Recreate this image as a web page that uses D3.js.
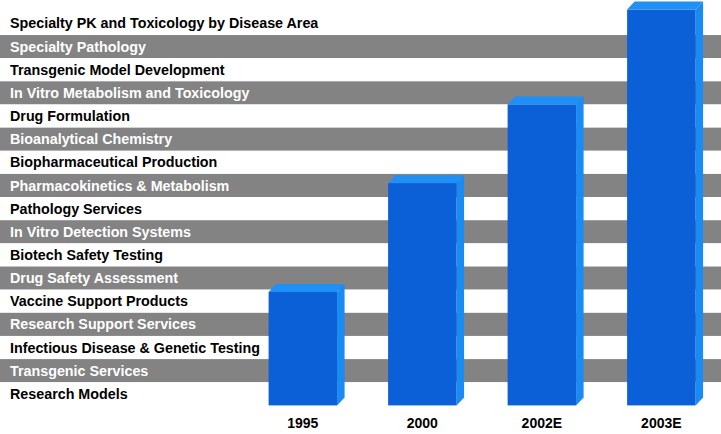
<!DOCTYPE html>
<html>
<head>
<meta charset="utf-8">
<script src="https://cdn.jsdelivr.net/npm/d3@7/dist/d3.min.js"></script>
<style>
  html, body { margin: 0; padding: 0; background: #ffffff; }
  svg { display: block; }
</style>
</head>
<body>
<svg id="chart" width="721" height="434"></svg>
<script>
// ---- data ----
const rowLabels = [
  "Specialty PK and Toxicology by Disease Area",
  "Specialty Pathology",
  "Transgenic Model Development",
  "In Vitro Metabolism and Toxicology",
  "Drug Formulation",
  "Bioanalytical Chemistry",
  "Biopharmaceutical Production",
  "Pharmacokinetics & Metabolism",
  "Pathology Services",
  "In Vitro Detection Systems",
  "Biotech Safety Testing",
  "Drug Safety Assessment",
  "Vaccine Support Products",
  "Research Support Services",
  "Infectious Disease & Genetic Testing",
  "Transgenic Services",
  "Research Models"
];
const years = ["1995", "2000", "2002E", "2003E"];
const values = [4.9, 9.6, 13.0, 17.1];

// ---- layout ----
const W = 721, H = 434;
const plotTop = 11.9, plotBottom = 405.4;
const depthX = 7.5, depthY = 8;

const svg = d3.select("#chart");

const yRow = d3.scaleBand().domain(rowLabels).range([plotTop, plotBottom]).padding(0);
const y = d3.scaleLinear().domain([0, rowLabels.length]).range([plotBottom, plotTop]);
const x = d3.scaleBand().domain(years).range([268.6, 695.6]).paddingInner(0.427).paddingOuter(0);

// stripes
svg.append("g").selectAll("rect")
  .data(rowLabels)
  .join("rect")
  .attr("x", 0)
  .attr("y", d => yRow(d))
  .attr("width", W)
  .attr("height", yRow.bandwidth())
  .attr("fill", (d, i) => i % 2 === 1 ? "#838383" : "#ffffff");

// row labels
svg.append("g").selectAll("text")
  .data(rowLabels)
  .join("text")
  .attr("x", 10)
  .attr("y", d => yRow(d) + yRow.bandwidth() / 2 + 5)
  .attr("font-family", "'Liberation Sans', Arial, Helvetica, sans-serif")
  .attr("font-weight", "bold")
  .attr("font-size", "14.3px")
  .attr("fill", (d, i) => i % 2 === 1 ? "#ffffff" : "#000000")
  .text(d => d);

// bars (3D)
const data = years.map((yr, i) => ({ year: yr, value: values[i] }));
const bars = svg.append("g").selectAll("g")
  .data(data)
  .join("g");

// side face
bars.append("path")
  .attr("fill", "#1a8bf3")
  .attr("d", d => {
    const x1 = x(d.year) + x.bandwidth();
    const yt = y(d.value), yb = y(0);
    return `M${x1},${yt} L${x1 + depthX},${yt - depthY} L${x1 + depthX},${yb - depthY} L${x1},${yb} Z`;
  });
// top face
bars.append("path")
  .attr("fill", "#1e90f6")
  .attr("d", d => {
    const x0 = x(d.year), x1 = x0 + x.bandwidth();
    const yt = y(d.value);
    return `M${x0},${yt} L${x0 + depthX},${yt - depthY} L${x1 + depthX},${yt - depthY} L${x1},${yt} Z`;
  });
// front face
bars.append("rect")
  .attr("x", d => x(d.year))
  .attr("y", d => y(d.value))
  .attr("width", x.bandwidth())
  .attr("height", d => y(0) - y(d.value))
  .attr("fill", "#0b5fd7");

// year labels
svg.append("g").selectAll("text")
  .data(years)
  .join("text")
  .attr("x", d => x(d) + x.bandwidth() / 2)
  .attr("y", 428.3)
  .attr("text-anchor", "middle")
  .attr("font-family", "'Liberation Sans', Arial, Helvetica, sans-serif")
  .attr("font-weight", "bold")
  .attr("font-size", "14px")
  .attr("fill", "#000000")
  .text(d => d);
</script>
</body>
</html>
